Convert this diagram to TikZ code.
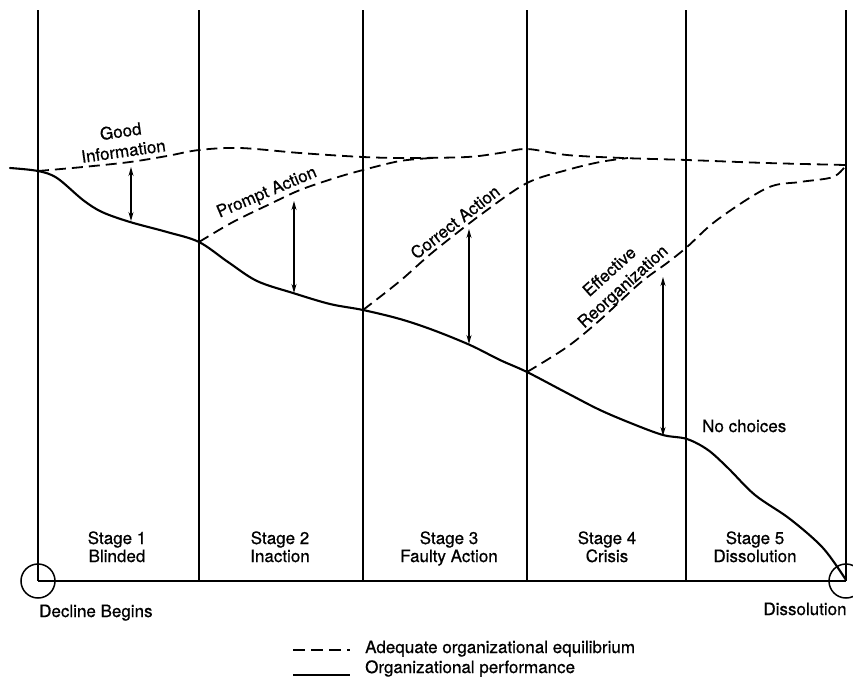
\documentclass[tikz,border=0pt]{standalone}
\usepackage{fontspec}
\setmainfont{TeX Gyre Heros}[FakeBold=0.6]
\usetikzlibrary{arrows.meta}
\begin{document}
\begin{tikzpicture}[x=1pt,y=-1pt,
  vline/.style={line width=1.2pt},
  perf/.style={line width=2.1pt, line join=round, line cap=round},
  equil/.style={line width=1.8pt, dash pattern=on 11pt off 6pt},
  gaparrow/.style={line width=1.2pt, {Stealth[length=9pt,width=5pt]}-{Stealth[length=9pt,width=5pt]}},
  lbl/.style={font=\fontsize{17}{20}\selectfont, inner sep=0pt},
  endcircle/.style={circle, draw, line width=1.5pt, minimum size=34pt, inner sep=0pt}]
\useasboundingbox (0,0) rectangle (853,681);
\clip (0,0) rectangle (853,681);

% stage boundaries
\foreach \n/\x in {1/38,2/199,3/363,4/527,5/686,6/846}{
  \coordinate (t\n) at (\x,10);
  \coordinate (b\n) at (\x,581);
  \draw[vline] (t\n) -- (b\n);
}
\draw[line width=1.6pt] (b1) -- (b6);

% end circles
\node[endcircle] (c1) at (b1) {};
\node[endcircle] (c2) at (b6) {};

% junction points
\coordinate (j1) at (38,171);
\coordinate (j2) at (199,242);
\coordinate (j3) at (363,310);
\coordinate (j4) at (527,372);
\coordinate (j5) at (846,165);

% organizational performance
\draw[perf] plot[smooth,tension=0.55] coordinates {(10,168) (j1) (57,178) (83,200) (102,212) (130,222) (167,232) (j2) (228,262) (257,281) (293,293) (330,304) (j3) (400,319) (433,330) (470,345) (500,360) (j4) (567,393) (600,410) (633,424) (663,435) (687,439) (708,450) (728,468) (755,495) (790,519) (823,548) (846,580)};

% adequate equilibrium
\draw[equil] plot[smooth,tension=0.55] coordinates {(j1) (83,167) (130,162) (167,156) (199,150) (240,148) (300,153) (363,157) (407,158) (467,157) (500,153) (527,149) (567,155) (623,158) (687,160) (767,163) (j5)};
\draw[equil] plot[smooth,tension=0.55] coordinates {(j2) (233,222) (270,204) (300,190) (335,178) (363,170) (400,161) (432,158)};
\draw[equil] plot[smooth,tension=0.55] coordinates {(j3) (400,281) (433,252) (483,213) (527,183) (567,170) (600,162) (628,158)};
\draw[equil] plot[smooth,tension=0.55] coordinates {(j4) (567,347) (600,320) (640,283) (667,263) (687,247) (717,220) (767,188) (800,182) (833,177) (j5)};

% gaps
\coordinate (g1t) at (131,167); \coordinate (g1b) at (131,221);
\coordinate (g2t) at (294,201); \coordinate (g2b) at (294,293);
\coordinate (g3t) at (469,229); \coordinate (g3b) at (469,344);
\coordinate (g4t) at (663,277); \coordinate (g4b) at (663,436);
\draw[gaparrow] (g1t) -- (g1b);
\draw[gaparrow] (g2t) -- (g2b);
\draw[gaparrow] (g3t) -- (g3b);
\draw[gaparrow] (g4t) -- (g4b);

% curve labels
\node[lbl, align=center, rotate=8] (goodinfo) at (122,141) {Good\\Information};
\node[lbl, rotate=23] (prompt) at (267,193) {Prompt Action};
\node[lbl, rotate=38] (correct) at (455,222) {Correct Action};
\node[lbl, align=center, rotate=42] (effective) at (617,280) {Effective\\Reorganization};
\node[lbl, anchor=base west] (nochoice) at (702,432) {No choices};

% stage labels
\node[lbl, anchor=base] (s1a) at (117,544) {Stage 1};
\node[lbl, anchor=base] (s1b) at (117,562) {Blinded};
\node[lbl, anchor=base] (s2a) at (280,544) {Stage 2};
\node[lbl, anchor=base] (s2b) at (280,562) {Inaction};
\node[lbl, anchor=base] (s3a) at (449,544) {Stage 3};
\node[lbl, anchor=base] (s3b) at (449,562) {Faulty Action};
\node[lbl, anchor=base] (s4a) at (607,544) {Stage 4};
\node[lbl, anchor=base] (s4b) at (607,562) {Crisis};
\node[lbl, anchor=base] (s5a) at (755,544) {Stage 5};
\node[lbl, anchor=base] (s5b) at (755,562) {Dissolution};

\node[lbl, anchor=base west] (decline) at (39,617) {Decline Begins};
\node[lbl, anchor=base] (dissol) at (805,615) {Dissolution};

% legend
\coordinate (l1a) at (293,650); \coordinate (l1b) at (350,650);
\coordinate (l2a) at (293,675); \coordinate (l2b) at (350,675);
\draw[line width=1.5pt, dash pattern=on 12pt off 6pt] (l1a) -- (l1b);
\draw[line width=1.8pt] (l2a) -- (l2b);
\node[lbl, anchor=base west] (leg1) at (365,653) {Adequate organizational equilibrium};
\node[lbl, anchor=base west] (leg2) at (365,673) {Organizational performance};
\end{tikzpicture}
\end{document}
